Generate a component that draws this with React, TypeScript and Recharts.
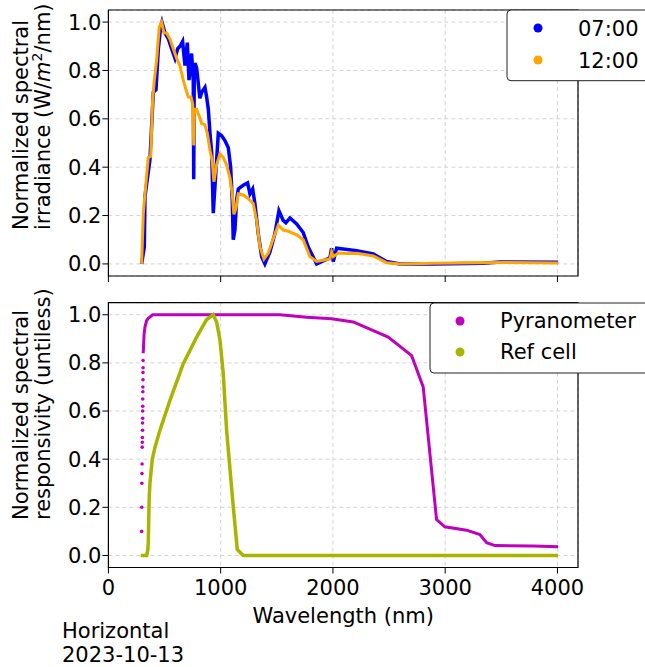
import { CartesianGrid, ComposedChart, Line, ReferenceArea, Scatter, XAxis, YAxis } from "recharts";

// wavelength (nm) / normalized value pairs
const wl0700 = [296, 320, 326, 370, 400, 424, 445, 466, 477, 504, 534, 563, 593, 617, 638, 661, 682, 703, 718, 741, 756, 760, 765, 771, 786, 815, 831, 860, 875, 890, 905, 920, 934, 949, 979, 1009, 1038, 1068, 1089, 1103, 1112, 1127, 1142, 1157, 1201, 1240, 1261, 1285, 1305, 1335, 1365, 1394, 1439, 1483, 1519, 1557, 1581, 1617, 1677, 1735, 1780, 1855, 1973, 1988, 2003, 2033, 2092, 2211, 2359, 2478, 2597, 2894, 3339, 3487, 4006];
const irr0700 = [0, 0.07, 0.28, 0.43, 0.71, 0.72, 0.89, 0.98, 1.0, 0.955, 0.93, 0.89, 0.85, 0.89, 0.9, 0.92, 0.82, 0.915, 0.76, 0.87, 0.76, 0.35, 0.8, 0.83, 0.81, 0.685, 0.71, 0.73, 0.69, 0.64, 0.54, 0.46, 0.21, 0.32, 0.54, 0.53, 0.51, 0.48, 0.4, 0.265, 0.1, 0.14, 0.265, 0.31, 0.325, 0.335, 0.29, 0.31, 0.25, 0.125, 0.03, 0, 0.05, 0.125, 0.22, 0.18, 0.17, 0.19, 0.165, 0.13, 0.07, 0, 0.025, 0.065, 0.01, 0.065, 0.062, 0.055, 0.041, 0.01, 0, 0, 0.003, 0.008, 0.007];

const wl1200 = [296, 311, 326, 355, 377, 394, 409, 430, 453, 474, 495, 519, 548, 578, 608, 637, 667, 691, 712, 736, 751, 760, 765, 771, 786, 810, 831, 860, 881, 905, 925, 940, 964, 994, 1023, 1053, 1083, 1103, 1118, 1136, 1157, 1201, 1246, 1290, 1320, 1350, 1386, 1424, 1469, 1513, 1557, 1602, 1677, 1735, 1795, 1855, 1973, 1988, 2003, 2047, 2122, 2211, 2359, 2478, 2597, 2894, 3487, 4006];
const irr1200 = [0, 0.21, 0.29, 0.44, 0.445, 0.68, 0.76, 0.845, 0.98, 1.0, 0.955, 0.955, 0.93, 0.89, 0.85, 0.82, 0.76, 0.72, 0.69, 0.69, 0.66, 0.49, 0.62, 0.64, 0.64, 0.61, 0.58, 0.575, 0.54, 0.47, 0.425, 0.34, 0.41, 0.455, 0.44, 0.41, 0.355, 0.29, 0.205, 0.23, 0.29, 0.285, 0.27, 0.25, 0.18, 0.07, 0.02, 0.045, 0.105, 0.16, 0.14, 0.135, 0.12, 0.1, 0.03, 0.01, 0.02, 0.05, 0.03, 0.045, 0.043, 0.044, 0.033, 0.005, 0, 0.003, 0.006, 0.004];

const wlPyrDots = [296, 297, 298, 299, 300, 301, 302, 303, 304, 304, 305, 305, 306, 306, 307, 307, 308, 308, 309, 309];
const respPyrDots = [0.1, 0.2, 0.3, 0.34, 0.38, 0.45, 0.47, 0.49, 0.52, 0.55, 0.57, 0.6, 0.62, 0.65, 0.68, 0.7, 0.73, 0.76, 0.78, 0.81];

const wlPyr = [310, 318, 326, 340, 355, 394, 1528, 1766, 1988, 2181, 2329, 2492, 2701, 2804, 2923, 2997, 3190, 3309, 3369, 3443, 3784, 4006];
const respPyr = [0.84, 0.92, 0.95, 0.975, 0.985, 1.0, 1.0, 0.99, 0.983, 0.97, 0.94, 0.907, 0.83, 0.7, 0.149, 0.119, 0.105, 0.087, 0.053, 0.041, 0.039, 0.036];

const wlRef = [288, 341, 350, 355, 358, 361, 364, 370, 376, 391, 415, 459, 549, 667, 786, 875, 934, 964, 994, 1023, 1053, 1112, 1148, 1201, 4006];
const respRef = [0, 0, 0.02, 0.05, 0.12, 0.19, 0.245, 0.3, 0.33, 0.4, 0.45, 0.52, 0.645, 0.797, 0.907, 0.98, 1.0, 0.97, 0.894, 0.756, 0.52, 0.204, 0.025, 0, 0];

const xTicks = [0, 1000, 2000, 3000, 4000];
const yTicks = [0, 0.2, 0.4, 0.6, 0.8, 1.0];

const zip = (xs: number[], ys: number[]) => xs.map((wl, i) => ({ wl, v: ys[i] }));

const FONT = "DejaVu Sans";
const XMAX = 4183;
const YMIN = -0.05;
const YMAX = 1.05;

const tickStyle = { fill: "#000", fontSize: 21, fontFamily: FONT };

function Panel({ height, top, bottomAxis, showLabels, children }: any) {
  return (
    <ComposedChart
      width={645}
      height={height}
      margin={{ top, right: 67, bottom: 0, left: 48.4 }}
      style={{ position: "absolute", left: 0, top: 0 }}
    >
      <CartesianGrid stroke="#d4d4d4" strokeDasharray="4 3" />
      <XAxis
        dataKey="wl"
        type="number"
        domain={[0, XMAX]}
        ticks={xTicks}
        allowDataOverflow
        axisLine={false}
        tickLine={{ stroke: "#000" }}
        tickSize={6}
        tickMargin={7}
        height={bottomAxis}
        tick={tickStyle}
        tickFormatter={(v: number) => (showLabels ? String(v) : "")}
      />
      <YAxis
        type="number"
        domain={[YMIN, YMAX]}
        ticks={yTicks}
        allowDataOverflow
        axisLine={false}
        tickLine={{ stroke: "#000" }}
        tickSize={6}
        tickMargin={1}
        width={60}
        tick={tickStyle}
        tickFormatter={(v: number) => v.toFixed(1)}
      />
      {children}
      <ReferenceArea x1={0} x2={XMAX} y1={YMIN} y2={YMAX} fill="none" stroke="#000" strokeWidth={1.2} />
    </ComposedChart>
  );
}

const dot = (color: string) => (p: any) => <circle cx={p.cx} cy={p.cy} r={1.8} fill={color} />;

export default function App() {
  return (
    <div style={{ position: "absolute", left: 0, top: 0, width: 645, height: 667, background: "#fff", overflow: "hidden" }}>
      <div style={{ position: "absolute", left: 0, top: 0, width: 645, height: 290 }}>
        <Panel height={290} top={10} bottomAxis={14} showLabels={false}>
          <Line data={zip(wl0700, irr0700)} dataKey="v" type="linear" stroke="#0000ff" strokeWidth={3.5} dot={false} isAnimationActive={false} />
          <Line data={zip(wl1200, irr1200)} dataKey="v" type="linear" stroke="#ffa500" strokeWidth={3} dot={false} isAnimationActive={false} />
        </Panel>
      </div>
      <div style={{ position: "absolute", left: 0, top: 290, width: 645, height: 310 }}>
        <Panel height={310} top={12.7} bottomAxis={32.5} showLabels={true}>
          <Scatter data={zip(wlPyrDots, respPyrDots)} dataKey="v" shape={dot("#bf00bf")} isAnimationActive={false} />
          <Line data={zip(wlPyr, respPyr)} dataKey="v" type="linear" stroke="#bf00bf" strokeWidth={3} dot={false} isAnimationActive={false} />
          <Line data={zip(wlRef, respRef)} dataKey="v" type="linear" stroke="#a9b400" strokeWidth={3.5} dot={false} isAnimationActive={false} />
        </Panel>
      </div>
      <svg width={645} height={667} style={{ position: "absolute", left: 0, top: 0, pointerEvents: "none" }} fontFamily={FONT} fontSize={21} fill="#000">
        <text transform="translate(28,230) rotate(-90)">Normalized spectral</text>
        <text transform="translate(50,230) rotate(-90)">
          irradiance (W/<tspan fontStyle="italic">m</tspan>
          <tspan fontSize={14} dy={-8}>2</tspan>
          <tspan dy={8}>/nm)</tspan>
        </text>
        <text transform="translate(28,520) rotate(-90)">Normalized spectral</text>
        <text transform="translate(50,520) rotate(-90)">responsivity (untiless)</text>
        <text x={343.2} y={623} textAnchor="middle">Wavelength (nm)</text>
        <text x={62} y={638}>Horizontal</text>
        <text x={62} y={661.5}>2023-10-13</text>

        <rect x={507} y={10} width={160} height={70.7} rx={4} fill="#fff" stroke="#222" strokeWidth={1} />
        <circle cx={538} cy={28} r={4.5} fill="#0000ff" />
        <text x={578} y={36}>07:00</text>
        <circle cx={538} cy={60} r={4.5} fill="#ffa500" />
        <text x={578} y={68}>12:00</text>

        <rect x={430} y={303} width={240} height={70} rx={4} fill="#fff" stroke="#222" strokeWidth={1} />
        <circle cx={460} cy={321} r={4.5} fill="#bf00bf" />
        <text x={500} y={328}>Pyranometer</text>
        <circle cx={460} cy={352} r={4.5} fill="#a9b400" />
        <text x={500} y={359}>Ref cell</text>
      </svg>
    </div>
  );
}
